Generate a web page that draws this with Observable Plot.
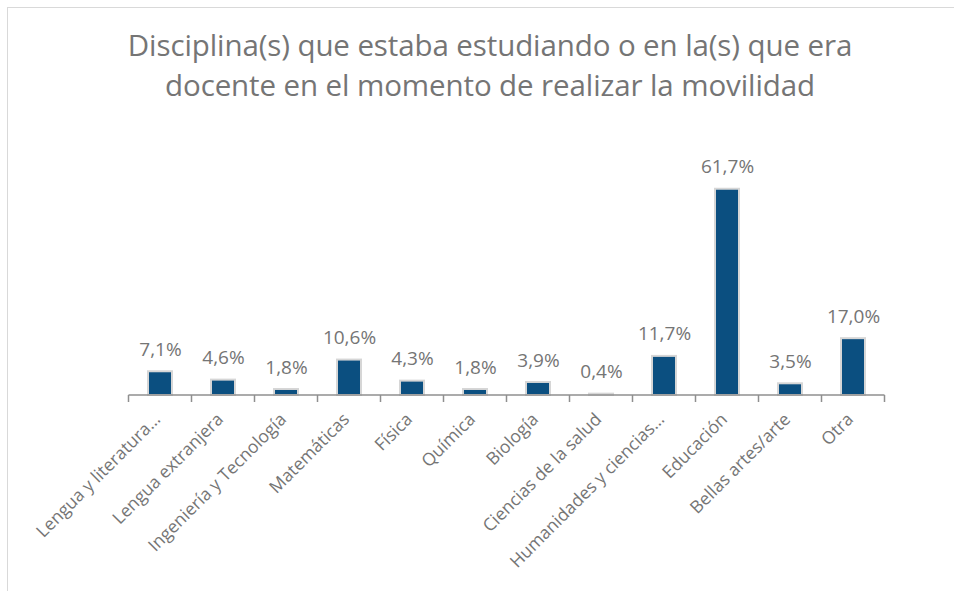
<!DOCTYPE html>
<html>
<head>
<meta charset="utf-8">
<script src="https://cdn.jsdelivr.net/npm/d3@7"></script>
<script src="https://cdn.jsdelivr.net/npm/@observablehq/plot@0.6"></script>
<style>
  html, body { margin: 0; padding: 0; background: #fff; }
  #wrap { position: relative; width: 954px; height: 591px; overflow: hidden; font-family: "Open Sans", sans-serif; }
  #frame { position: absolute; left: 7px; top: 7px; width: 1000px; height: 1000px; border-left: 1.5px solid #d9d9d9; border-top: 1.5px solid #d9d9d9; }
  #title { position: absolute; left: 0; top: 25px; width: 980px; text-align: center; font-size: 29.5px; line-height: 40px; color: #757575; letter-spacing: -0.1px; }
  #chart { position: absolute; left: 0; top: 120px; }
</style>
</head>
<body>
<div id="wrap">
  <div id="frame"></div>
  <div id="title">Disciplina(s) que estaba estudiando o en la(s) que era<br>docente en el momento de realizar la movilidad</div>
  <div id="chart"></div>
</div>
<script>
const categories = [
  "Lengua y literatura…",
  "Lengua extranjera",
  "Ingeniería y Tecnología",
  "Matemáticas",
  "Física",
  "Química",
  "Biología",
  "Ciencias de la salud",
  "Humanidades y ciencias…",
  "Educación",
  "Bellas artes/arte",
  "Otra"
];
const values = [7.1, 4.6, 1.8, 10.6, 4.3, 1.8, 3.9, 0.4, 11.7, 61.7, 3.5, 17.0];

const data = categories.map((c, i) => ({ cat: c, value: values[i] }));
const fmt = v => v.toFixed(1).replace(".", ",") + "%";

const gray = "#757575";

// ticks at band boundaries + baseline
const boundaryTicks = (index, scales) => {
  const x = scales.x, y = scales.y;
  const step = x.step(), bw = x.bandwidth();
  const y0 = y(0);
  const g = d3.create("svg:g");
  const xs = categories.map(c => x(c) + bw / 2 - step / 2);
  xs.push(x(categories[categories.length - 1]) + bw / 2 + step / 2);
  g.selectAll("line.t").data(xs).join("line")
    .attr("x1", d => d).attr("x2", d => d)
    .attr("y1", y0).attr("y2", y0 + 7)
    .attr("stroke", "#8f8f8f").attr("stroke-width", 1.5);
  g.append("line")
    .attr("x1", xs[0]).attr("x2", xs[xs.length - 1])
    .attr("y1", y0).attr("y2", y0)
    .attr("stroke", "#8f8f8f").attr("stroke-width", 1.5);
  return g.node();
};

const plot = Plot.plot({
  width: 954,
  height: 471,
  marginLeft: 126,
  marginRight: 67,
  marginTop: 41,
  marginBottom: 196,
  style: { fontFamily: "Open Sans, sans-serif", background: "transparent", overflow: "visible" },
  x: { domain: categories, paddingInner: 0.62, paddingOuter: 0.31, label: null },
  y: { domain: [0, 70], axis: null },
  marks: [
    Plot.axisX({
      tickSize: 0,
      tickPadding: 21,
      tickRotate: -45,
      dx: -3,
      fontSize: 17.5,
      fill: gray,
      color: gray,
      label: null
    }),
    Plot.barY(data, { x: "cat", y: "value", fill: "#0b4f80", stroke: "#d6d6d6", strokeWidth: 2 }),
    boundaryTicks,
    Plot.text(data, { x: "cat", y: "value", text: d => fmt(d.value), dy: -22, fontSize: 19, fill: gray })
  ]
});
document.getElementById("chart").appendChild(plot);
</script>
</body>
</html>
